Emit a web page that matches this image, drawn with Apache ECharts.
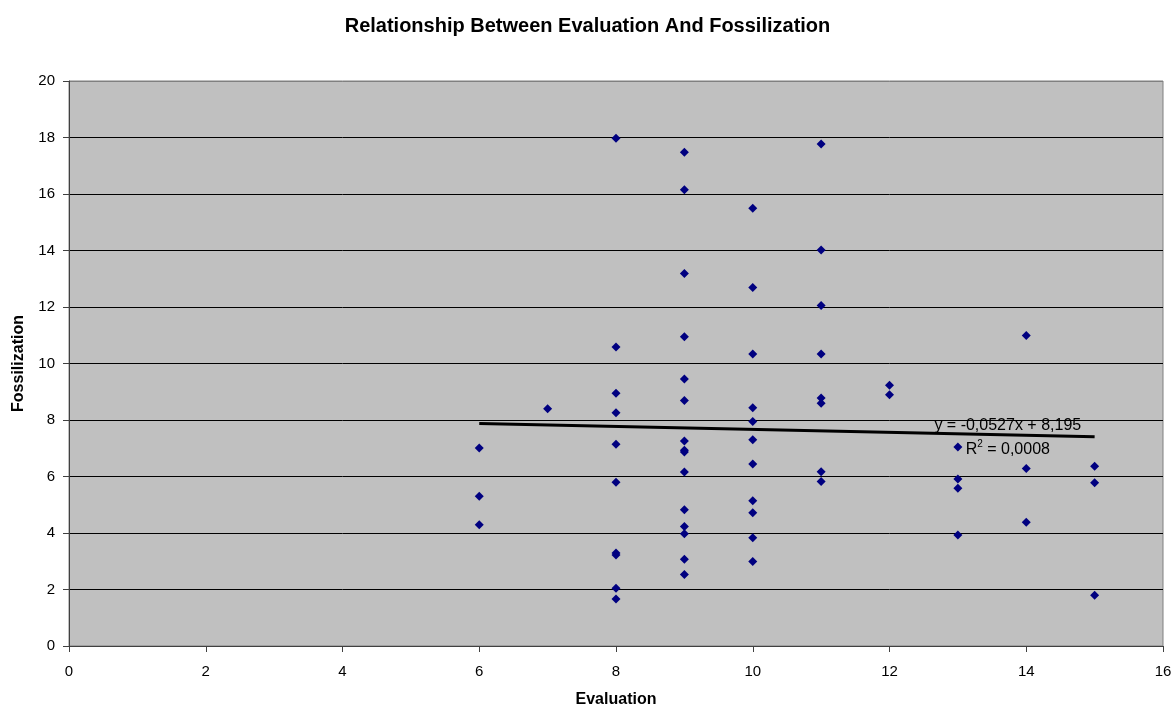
<!DOCTYPE html>
<html>
<head>
<meta charset="utf-8">
<title>Relationship Between Evaluation And Fossilization</title>
<script src="https://cdn.jsdelivr.net/npm/echarts@6/dist/echarts.min.js"></script>
<style>
  html, body { margin: 0; padding: 0; background: #fff; }
  #chart { width: 1175px; height: 706px; }
</style>
</head>
<body>
<div id="chart"></div>
<script>
// evaluation score (x) and fossilization score (y) for each respondent
const evaluation = [
  6, 6, 6,
  7,
  8, 8, 8, 8, 8, 8, 8, 8, 8, 8,
  9, 9, 9, 9, 9, 9, 9, 9, 9, 9, 9, 9, 9, 9, 9,
  10, 10, 10, 10, 10, 10, 10, 10, 10, 10, 10,
  11, 11, 11, 11, 11, 11, 11, 11,
  12, 12,
  13, 13, 13, 13,
  14, 14, 14,
  15, 15, 15
]
const fossilization = [
  7.01, 5.30, 4.29,
  8.40,
  17.97, 10.58, 8.95, 8.26, 7.14, 5.80, 3.29, 3.22, 2.04, 1.66,
  17.48, 16.15, 13.19, 10.95, 9.45, 8.69, 7.26, 6.93, 6.87, 6.16, 4.82, 4.23, 3.97, 3.07, 2.53,
  15.50, 12.69, 10.34, 8.43, 7.95, 7.30, 6.44, 5.14, 4.72, 3.83, 2.99,
  17.77, 14.02, 12.05, 10.34, 8.78, 8.59, 6.17, 5.82,
  9.23, 8.89,
  7.04, 5.91, 5.58, 3.93,
  10.99, 6.28, 4.38,
  6.36, 5.78, 1.80
]

// linear trendline as printed on the chart
const trendSlope = -0.0527
const trendIntercept = 8.195
const trendRange = [6, 15]
const trendText = ['y = -0,0527x + 8,195', 'R{sup|2} = 0,0008']

const xTicks = [0, 16, 2]   // min, max, step
const yTicks = [0, 20, 2]

const points = evaluation.map((x, i) => [x, fossilization[i]])
const trendPoints = trendRange.map(x => [x, trendSlope * x + trendIntercept])

const chart = echarts.init(document.getElementById('chart'))

// last split line (top, value 20) is the grey plot border
const ySplitColors = []
for (let v = yTicks[0]; v <= yTicks[1]; v += yTicks[2]) {
  ySplitColors.push(v === yTicks[1] ? '#808080' : '#000000')
}

const baseFont = 'Arial, "Liberation Sans", sans-serif'

chart.setOption({
  animation: false,
  title: {
    text: 'Relationship Between Evaluation And Fossilization',
    left: 'center',
    top: 11,
    textStyle: { fontFamily: baseFont, fontSize: 20, fontWeight: 'bold', color: '#000' }
  },
  grid: {
    left: 69,
    right: 12,
    top: 81,
    bottom: 60,
    outerBoundsMode: 'none',
    containLabel: false,
    show: true,
    backgroundColor: '#C0C0C0',
    borderColor: '#808080',
    borderWidth: 1
  },
  xAxis: {
    type: 'value',
    min: xTicks[0],
    max: xTicks[1],
    interval: xTicks[2],
    name: 'Evaluation',
    nameLocation: 'middle',
    nameGap: 46,
    nameTextStyle: { fontFamily: baseFont, fontSize: 16, fontWeight: 'bold', color: '#000' },
    axisLine: { show: true, onZero: false, lineStyle: { color: '#404040', width: 1 } },
    axisTick: { show: true, length: 6, lineStyle: { color: '#404040' } },
    axisLabel: { fontFamily: baseFont, fontSize: 15, color: '#000', margin: 18 },
    splitLine: { show: false }
  },
  yAxis: {
    type: 'value',
    min: yTicks[0],
    max: yTicks[1],
    interval: yTicks[2],
    name: 'Fossilization',
    nameLocation: 'middle',
    nameGap: 42,
    nameTextStyle: { fontFamily: baseFont, fontSize: 16, fontWeight: 'bold', color: '#000' },
    axisLine: { show: true, onZero: false, lineStyle: { color: '#404040', width: 1 } },
    axisTick: { show: true, length: 6, lineStyle: { color: '#404040' } },
    axisLabel: { fontFamily: baseFont, fontSize: 15, color: '#000', margin: 14 },
    splitLine: { show: true, lineStyle: { color: ySplitColors, width: 1 } }
  },
  series: [
    {
      type: 'scatter',
      data: points,
      symbol: 'diamond',
      symbolSize: 9,
      itemStyle: { color: '#000080', opacity: 1 },
      z: 3
    },
    {
      type: 'line',
      data: trendPoints,
      symbol: 'none',
      lineStyle: { color: '#000', width: 3 },
      z: 2,
      markPoint: {
        symbol: 'circle',
        symbolSize: 0,
        silent: true,
        label: {
          show: true,
          fontFamily: baseFont,
          fontSize: 16,
          color: '#000',
          rich: { sup: { fontSize: 10, verticalAlign: 'top', padding: [0, 0, 9, 0] } }
        },
        data: [
          { coord: [13.73, 7.79], label: { formatter: trendText[0] } },
          { coord: [13.73, 6.97], label: { formatter: trendText[1] } }
        ]
      }
    }
  ]
})

window.addEventListener('resize', () => chart.resize())
</script>
</body>
</html>
